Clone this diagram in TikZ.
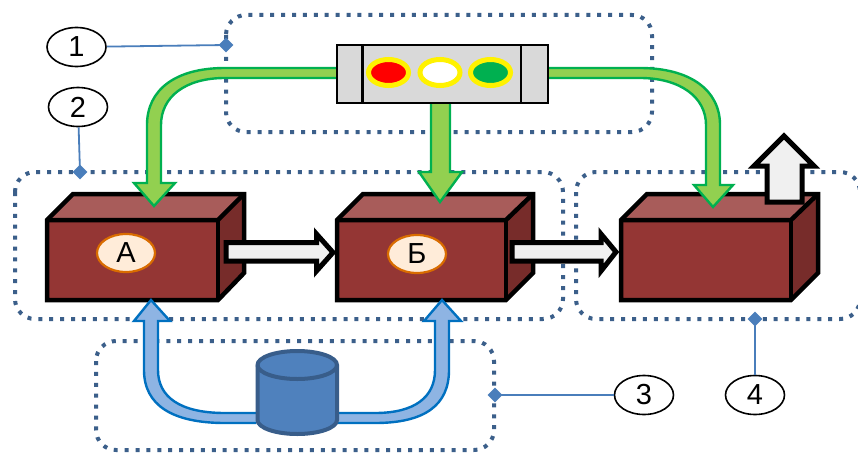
\documentclass[tikz,border=0pt]{standalone}
\usepackage{fontspec}
\setmainfont{Liberation Sans}
\usetikzlibrary{shapes.geometric}
\definecolor{frameblue}{HTML}{3B5F8A}
\definecolor{callblue}{HTML}{4A7EBB}
\definecolor{boxfront}{HTML}{943634}
\definecolor{boxtop}{HTML}{A85C5A}
\definecolor{boxside}{HTML}{772C2A}
\definecolor{lightgreen}{HTML}{92D050}
\definecolor{darkgreen}{HTML}{00B050}
\definecolor{pipeblue}{HTML}{8EB4E3}
\definecolor{pipeedge}{HTML}{0070C0}
\definecolor{cylfill}{HTML}{4F81BD}
\definecolor{cyledge}{HTML}{385D8A}
\tikzset{
  frame/.style={draw=frameblue,line width=4pt,dash pattern=on 4pt off 6.9pt,rounded corners=20pt},
  callout/.style={ellipse,draw=black,line width=1.6pt,fill=white,minimum width=59pt,minimum height=39pt,inner sep=0pt,font=\fontsize{29}{29}\selectfont},
  tick/.style={diamond,fill=callblue,minimum size=15pt,inner sep=0pt},
  leader/.style={draw=callblue,line width=1.8pt},
  boxname/.style={ellipse,draw=orange!85!black,line width=2.2pt,fill=orange!15,minimum width=58pt,minimum height=38pt,inner sep=0pt,font=\fontsize{29}{29}\selectfont},
  greenpipe/.style={draw=darkgreen,fill=lightgreen,line width=2.4pt,miter limit=10},
  bluepipe/.style={draw=pipeedge,fill=pipeblue,line width=2.4pt,miter limit=10},
  whitearrow/.style={draw=black,fill=black!6,line width=5pt,miter limit=10},
  edge/.style={draw=black,line width=4.5pt,line join=miter},
  lamp/.style={ellipse,draw=yellow,line width=5pt,minimum width=40pt,minimum height=26pt,inner sep=0pt},
  panelline/.style={draw=black,line width=2.2pt},
}
\newcommand{\brick}[3]{% left x, front right x, back right x
  \fill[boxtop] (#1,220) -- (#1+26,194) -- (#3,194) -- (#2,220) -- cycle;
  \fill[boxside] (#2,220) -- (#3,194) -- (#3,273) -- (#2,300) -- cycle;
  \fill[boxfront] (#1,220) rectangle (#2,300);
  \draw[edge] (#1,220) -- (#1+26,194) -- (#3,194) -- (#3,273) -- (#2,300) -- (#1,300) -- cycle;
  \draw[edge] (#1,220) -- (#2,220) -- (#3,194);
  \draw[edge] (#2,220) -- (#2,300);
}
\begin{document}
\begin{tikzpicture}[x=1pt,y=-1pt]
\useasboundingbox (0,0) rectangle (858,452);
\clip (0,0) rectangle (858,452);
\fill[white] (0,0) rectangle (858,452);
% frames
\draw[frame] (226,15) rectangle (652,132);
\draw[frame] (15,172) rectangle (563,319);
\draw[frame] (576,172) rectangle (860,319);
\draw[frame] (96,341) rectangle (494,450);
% boxes
\brick{47}{218}{244}
\brick{337}{506}{533}
\brick{621}{791}{818}
% up arrow
\draw[whitearrow] (767,202) -- (767,166) -- (754,166) -- (784,136) -- (814,166) -- (802,166) -- (802,202) -- cycle;
% green pipes
\draw[greenpipe] (338,68) -- (225,68) .. controls (175,68) and (147,90) .. (147,125) -- (147,183) -- (134,183) -- (154,206) -- (175,183) -- (161,183) -- (161,125) .. controls (161,97) and (185,78) .. (225,78) -- (338,78);
\draw[greenpipe] (547,68) -- (640,68) .. controls (690,68) and (720,90) .. (720,125) -- (720,185) -- (733,185) -- (713,207) -- (694,185) -- (706,185) -- (706,125) .. controls (706,97) and (680,78) .. (640,78) -- (547,78);
\draw[greenpipe] (431,103) -- (431,172) -- (419,172) -- (440,202) -- (462,172) -- (450,172) -- (450,103);
% panel
\draw[draw=black,fill=black!15,line width=2.2pt] (337,45) rectangle (548,103);
\draw[panelline] (362.5,45) -- (362.5,103);
\draw[panelline] (521,45) -- (521,103);
\node[lamp,fill=red] (lampr) at (388.5,72.5) {};
\node[lamp,fill=white] (lampw) at (440,72.5) {};
\node[lamp,fill=darkgreen] (lampg) at (490.5,72.5) {};
% white arrows
\draw[whitearrow] (226,242.5) -- (316.5,242.5) -- (316.5,234) -- (333,252.5) -- (316.5,271) -- (316.5,261) -- (226,261) -- cycle;
\draw[whitearrow] (512,242.5) -- (601,242.5) -- (601,234) -- (616,252) -- (601,271) -- (601,261) -- (512,261) -- cycle;
% blue pipes
\draw[bluepipe] (256,423) -- (225,423) .. controls (172,423) and (144,405) .. (144,370) -- (144,321) -- (134,321) -- (151,300) -- (170,321) -- (158,321) -- (158,370) .. controls (158,397) and (180,413) .. (225,413) -- (256,413);
\draw[bluepipe] (338,423) -- (375,423) .. controls (425,423) and (449,405) .. (449,370) -- (449,321) -- (461,321) -- (442,300) -- (424,321) -- (435,321) -- (435,370) .. controls (435,397) and (415,413) .. (375,413) -- (338,413);
% cylinder
\draw[draw=cyledge,fill=cylfill,line width=4pt] (257.5,365) -- (257.5,420) arc[start angle=180,end angle=360,x radius=39.75pt,y radius=14pt] -- (337,365) arc[start angle=0,end angle=180,x radius=39.75pt,y radius=14pt] -- cycle;
\draw[draw=cyledge,line width=4pt] (257.5,365) arc[start angle=180,end angle=360,x radius=39.75pt,y radius=14pt];
% box labels
\node[boxname] (la) at (126,253) {А};
\node[boxname] (lb) at (417,254) {Б};
% callouts
\node[tick] (d1) at (226,45) {};
\node[tick] (d2) at (80,172) {};
\node[tick] (d3) at (495,395) {};
\node[tick] (d4) at (755,319) {};
\node[callout] (n1) at (76.5,47) {1};
\node[callout] (n2) at (78,107) {2};
\node[callout] (n3) at (644,395) {3};
\node[callout] (n4) at (755,395) {4};
\draw[leader] (n1) -- (d1.center);
\draw[leader] (n2) -- (d2.center);
\draw[leader] (n3) -- (d3.center);
\draw[leader] (n4) -- (d4.center);
\end{tikzpicture}
\end{document}
